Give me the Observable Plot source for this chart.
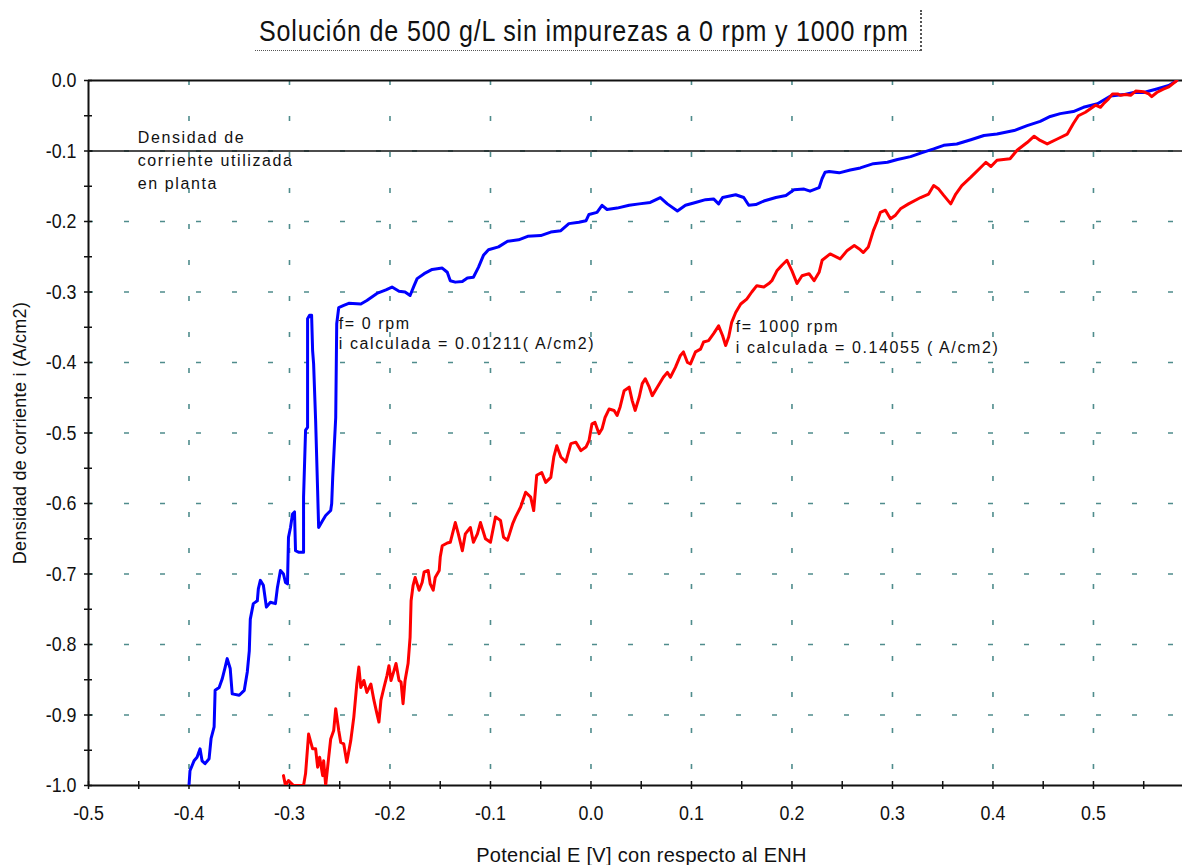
<!DOCTYPE html>
<html>
<head>
<meta charset="utf-8">
<script src="https://cdn.jsdelivr.net/npm/d3@7"></script>
<script src="https://cdn.jsdelivr.net/npm/@observablehq/plot@0.6"></script>
<style>
  body { margin: 0; background: #fff; }
  #figura { position: relative; width: 1182px; height: 865px; }
  #titulo {
    position: absolute; left: 255px; top: 10px; width: 667px; height: 41px;
    box-sizing: border-box; border-right: 2px dotted #555; border-bottom: 1px dotted #555;
    overflow: visible; white-space: nowrap; color: #111;
  }
  #titulo span {
    position: absolute; left: 4px; top: 0; line-height: 41px;
    font-family: "Liberation Sans", Arial, sans-serif; font-size: 30px; letter-spacing: 1px;
    transform: scaleX(0.835); transform-origin: 0 50%;
  }
  #figura svg text { fill: #111; }
  #figura svg [aria-label^="x-axis"] text,
  #figura svg [aria-label^="y-axis"] text {
    font-family: "Liberation Sans", Arial, sans-serif;
    font-size: 21px;
  }
</style>
</head>
<body>
<div id="figura"></div>
<script>
// Curva de polarización: potencial E (V vs ENH) e densidad de corriente i (A/cm2)
const curva0rpm = [
  [-0.400,-1.000],[-0.399,-0.979],[-0.395,-0.965],[-0.392,-0.960],[-0.389,-0.948],[-0.387,-0.965],
  [-0.384,-0.969],[-0.380,-0.962],[-0.378,-0.933],[-0.375,-0.917],[-0.374,-0.865],[-0.370,-0.861],
  [-0.367,-0.849],[-0.364,-0.832],[-0.362,-0.820],[-0.359,-0.834],[-0.357,-0.870],[-0.350,-0.872],
  [-0.345,-0.865],[-0.342,-0.839],[-0.340,-0.809],[-0.339,-0.764],[-0.336,-0.742],[-0.332,-0.738],
  [-0.331,-0.721],[-0.329,-0.709],[-0.326,-0.716],[-0.323,-0.747],[-0.319,-0.740],[-0.314,-0.742],
  [-0.312,-0.719],[-0.309,-0.695],[-0.306,-0.700],[-0.304,-0.712],[-0.302,-0.714],[-0.301,-0.648],
  [-0.299,-0.634],[-0.297,-0.615],[-0.295,-0.612],[-0.294,-0.667],[-0.291,-0.669],[-0.286,-0.669],
  [-0.286,-0.591],[-0.284,-0.496],[-0.282,-0.492],[-0.282,-0.338],[-0.280,-0.333],[-0.278,-0.333],
  [-0.277,-0.383],[-0.276,-0.402],[-0.274,-0.482],[-0.272,-0.582],[-0.271,-0.634],[-0.267,-0.624],
  [-0.264,-0.617],[-0.259,-0.610],[-0.258,-0.600],[-0.257,-0.563],[-0.254,-0.478],[-0.253,-0.345],
  [-0.251,-0.322],[-0.246,-0.319],[-0.241,-0.316],[-0.229,-0.317],[-0.223,-0.312],[-0.213,-0.302],
  [-0.204,-0.297],[-0.198,-0.293],[-0.191,-0.299],[-0.185,-0.300],[-0.180,-0.305],[-0.176,-0.291],
  [-0.173,-0.281],[-0.166,-0.274],[-0.158,-0.268],[-0.148,-0.266],[-0.143,-0.272],[-0.140,-0.284],
  [-0.135,-0.286],[-0.128,-0.285],[-0.123,-0.280],[-0.117,-0.279],[-0.112,-0.265],[-0.107,-0.248],
  [-0.102,-0.240],[-0.092,-0.236],[-0.083,-0.228],[-0.072,-0.226],[-0.063,-0.221],[-0.050,-0.220],
  [-0.040,-0.215],[-0.030,-0.213],[-0.022,-0.203],[-0.012,-0.201],[-0.005,-0.199],[-0.002,-0.190],
  [0.006,-0.187],[0.011,-0.177],[0.016,-0.183],[0.026,-0.181],[0.038,-0.177],[0.048,-0.175],
  [0.059,-0.173],[0.069,-0.166],[0.076,-0.175],[0.086,-0.185],[0.094,-0.177],[0.104,-0.173],
  [0.114,-0.169],[0.122,-0.168],[0.127,-0.175],[0.131,-0.166],[0.144,-0.162],[0.152,-0.166],
  [0.157,-0.177],[0.164,-0.176],[0.172,-0.171],[0.184,-0.166],[0.194,-0.163],[0.202,-0.155],
  [0.212,-0.154],[0.218,-0.157],[0.227,-0.152],[0.230,-0.139],[0.233,-0.130],[0.237,-0.129],
  [0.247,-0.131],[0.258,-0.127],[0.268,-0.124],[0.281,-0.118],[0.295,-0.116],[0.305,-0.112],
  [0.318,-0.108],[0.328,-0.103],[0.341,-0.097],[0.351,-0.092],[0.364,-0.090],[0.378,-0.084],
  [0.391,-0.078],[0.404,-0.076],[0.421,-0.071],[0.434,-0.064],[0.447,-0.058],[0.457,-0.051],
  [0.467,-0.047],[0.480,-0.044],[0.490,-0.038],[0.504,-0.033],[0.517,-0.022],[0.530,-0.020],
  [0.540,-0.017],[0.550,-0.017],[0.563,-0.012],[0.575,-0.007],[0.583,0.000]
];

const curva1000rpm = [
  [-0.306,-0.986],[-0.304,-1.000],[-0.301,-0.993],[-0.296,-1.000],[-0.286,-1.000],[-0.284,-0.983],
  [-0.282,-0.946],[-0.281,-0.927],[-0.277,-0.948],[-0.274,-0.948],[-0.272,-0.974],[-0.270,-0.960],
  [-0.267,-0.986],[-0.266,-0.965],[-0.264,-1.000],[-0.261,-0.960],[-0.259,-0.934],[-0.256,-0.922],
  [-0.254,-0.891],[-0.251,-0.922],[-0.249,-0.939],[-0.246,-0.941],[-0.243,-0.967],[-0.239,-0.936],
  [-0.236,-0.903],[-0.233,-0.856],[-0.231,-0.832],[-0.229,-0.861],[-0.226,-0.851],[-0.223,-0.868],
  [-0.219,-0.856],[-0.216,-0.879],[-0.213,-0.898],[-0.211,-0.910],[-0.209,-0.879],[-0.206,-0.861],
  [-0.203,-0.844],[-0.201,-0.830],[-0.199,-0.851],[-0.196,-0.837],[-0.194,-0.827],[-0.191,-0.851],
  [-0.189,-0.853],[-0.187,-0.884],[-0.185,-0.851],[-0.182,-0.827],[-0.180,-0.790],[-0.179,-0.738],
  [-0.177,-0.716],[-0.175,-0.705],[-0.171,-0.723],[-0.168,-0.712],[-0.166,-0.697],[-0.162,-0.695],
  [-0.160,-0.714],[-0.157,-0.723],[-0.155,-0.705],[-0.151,-0.695],[-0.150,-0.676],[-0.148,-0.660],
  [-0.143,-0.656],[-0.140,-0.655],[-0.135,-0.627],[-0.132,-0.643],[-0.128,-0.667],[-0.125,-0.643],
  [-0.120,-0.634],[-0.117,-0.655],[-0.113,-0.643],[-0.110,-0.627],[-0.105,-0.650],[-0.100,-0.655],
  [-0.095,-0.619],[-0.090,-0.624],[-0.087,-0.648],[-0.083,-0.652],[-0.078,-0.629],[-0.075,-0.619],
  [-0.070,-0.605],[-0.065,-0.584],[-0.060,-0.591],[-0.057,-0.610],[-0.054,-0.560],[-0.049,-0.556],
  [-0.045,-0.570],[-0.040,-0.563],[-0.037,-0.534],[-0.034,-0.518],[-0.030,-0.534],[-0.025,-0.541],
  [-0.020,-0.515],[-0.015,-0.513],[-0.010,-0.525],[-0.005,-0.520],[-0.002,-0.511],[0.001,-0.487],
  [0.004,-0.485],[0.008,-0.501],[0.011,-0.494],[0.014,-0.478],[0.018,-0.466],[0.023,-0.468],
  [0.026,-0.475],[0.029,-0.463],[0.033,-0.440],[0.038,-0.435],[0.041,-0.454],[0.044,-0.468],
  [0.048,-0.449],[0.051,-0.430],[0.054,-0.423],[0.058,-0.435],[0.061,-0.447],[0.066,-0.435],
  [0.072,-0.421],[0.076,-0.414],[0.079,-0.421],[0.084,-0.407],[0.089,-0.390],[0.092,-0.385],
  [0.096,-0.400],[0.099,-0.402],[0.104,-0.385],[0.109,-0.381],[0.112,-0.371],[0.117,-0.369],
  [0.122,-0.359],[0.127,-0.348],[0.131,-0.362],[0.134,-0.376],[0.137,-0.364],[0.140,-0.343],
  [0.144,-0.329],[0.149,-0.317],[0.155,-0.310],[0.160,-0.300],[0.165,-0.291],[0.172,-0.293],
  [0.177,-0.288],[0.180,-0.284],[0.185,-0.270],[0.190,-0.262],[0.195,-0.255],[0.200,-0.270],
  [0.205,-0.288],[0.210,-0.277],[0.217,-0.274],[0.222,-0.284],[0.227,-0.272],[0.230,-0.255],
  [0.238,-0.246],[0.248,-0.253],[0.255,-0.241],[0.262,-0.234],[0.267,-0.239],[0.271,-0.244],
  [0.276,-0.236],[0.281,-0.213],[0.285,-0.199],[0.288,-0.187],[0.293,-0.184],[0.298,-0.196],
  [0.303,-0.191],[0.308,-0.182],[0.316,-0.175],[0.328,-0.166],[0.336,-0.161],[0.341,-0.149],
  [0.346,-0.154],[0.351,-0.163],[0.358,-0.175],[0.363,-0.161],[0.369,-0.149],[0.378,-0.137],
  [0.388,-0.123],[0.393,-0.116],[0.398,-0.122],[0.404,-0.113],[0.417,-0.111],[0.424,-0.099],
  [0.434,-0.088],[0.441,-0.079],[0.447,-0.085],[0.454,-0.090],[0.464,-0.083],[0.474,-0.076],
  [0.480,-0.061],[0.485,-0.050],[0.492,-0.045],[0.497,-0.040],[0.502,-0.035],[0.507,-0.038],
  [0.510,-0.033],[0.515,-0.026],[0.519,-0.019],[0.524,-0.019],[0.527,-0.021],[0.532,-0.020],
  [0.537,-0.021],[0.542,-0.015],[0.550,-0.016],[0.555,-0.019],[0.558,-0.023],[0.563,-0.017],
  [0.570,-0.012],[0.575,-0.009],[0.583,0.000]
];

// Densidad de corriente de referencia (planta)
const corrientePlanta = -0.1;

// Marcas de los ejes
const etiquetasE = [-0.5, -0.4, -0.3, -0.2, -0.1, 0.0, 0.1, 0.2, 0.3, 0.4, 0.5];
const marcasE = [-0.5, -0.45, -0.4, -0.35, -0.3, -0.25, -0.2, -0.15, -0.1, -0.05, 0, 0.05, 0.1, 0.15, 0.2, 0.25, 0.3, 0.35, 0.4, 0.45, 0.5, 0.55];
const etiquetasI = [0.0, -0.1, -0.2, -0.3, -0.4, -0.5, -0.6, -0.7, -0.8, -0.9, -1.0];
const marcasI = [0, -0.05, -0.1, -0.15, -0.2, -0.25, -0.3, -0.35, -0.4, -0.45, -0.5, -0.55, -0.6, -0.65, -0.7, -0.75, -0.8, -0.85, -0.9, -0.95, -1.0];
const rejillaE = [-0.4, -0.3, -0.2, -0.1, 0.0, 0.1, 0.2, 0.3, 0.4, 0.5];
const rejillaI = [-0.1, -0.2, -0.3, -0.4, -0.5, -0.6, -0.7, -0.8, -0.9];

// Rango de los ejes
const dominioE = [-0.5, 0.5886];
const dominioI = [-1, 0];

// Textos
const titulo = "Solución de 500 g/L sin impurezas a 0 rpm y 1000 rpm";
const tituloX = "Potencial E [V] con respecto al ENH";
const tituloY = "Densidad de corriente i (A/cm2)";
const notas = [
  {E: -0.451, i: -0.111, texto: "Densidad de\ncorriente utilizada\nen planta", alto: 1.42},
  {E: -0.251, i: -0.357, texto: "f= 0 rpm\ni calculada = 0.01211( A/cm2)", alto: 1.25},
  {E: 0.144, i: -0.362, texto: "f= 1000 rpm\ni calculada = 0.14055 ( A/cm2)", alto: 1.35}
];

const fmt = d => d.toFixed(1);
const serie0 = curva0rpm.map(([E, i]) => ({E, i}));
const serie1000 = curva1000rpm.map(([E, i]) => ({E, i}));

const rejillaColor = "#4f8c8c";

const marcasNotas = notas.map(n => Plot.text([n], {
  x: "E", y: "i", text: "texto", textAnchor: "start", lineAnchor: "middle",
  lineHeight: n.alto, fontSize: 16, fill: "#111"
}));

const grafico = Plot.plot({
  width: 1182,
  height: 865,
  marginLeft: 88,
  marginRight: 0,
  marginTop: 80,
  marginBottom: 80,
  style: {background: "#fff", fontFamily: "'Liberation Sans', Arial, sans-serif", fontSize: "16px", color: "#111"},
  x: {domain: dominioE, ticks: etiquetasE, tickFormat: fmt, tickSize: 0, tickPadding: 20, label: null},
  y: {domain: dominioI, ticks: etiquetasI, tickFormat: fmt, tickSize: 0, tickPadding: 12, label: null},
  marks: [
    // rejilla punteada
    Plot.ruleX(rejillaE, {x: d => d, y1: dominioI[1], y2: dominioI[0], stroke: rejillaColor, strokeWidth: 1.6, strokeDasharray: "5,31"}),
    Plot.ruleY(rejillaI, {y: d => d, x1: dominioE[0], x2: dominioE[1], stroke: rejillaColor, strokeWidth: 1.6, strokeDasharray: "5,31"}),
    // líneas del marco y referencia de planta
    Plot.ruleY([dominioI[1]], {y: d => d, stroke: "#111", strokeWidth: 1.8}),
    Plot.ruleY([corrientePlanta], {y: d => d, stroke: "#111", strokeWidth: 1.5}),
    Plot.ruleY([dominioI[0]], {y: d => d, stroke: "#111", strokeWidth: 2}),
    Plot.ruleX([dominioE[0]], {x: d => d, stroke: "#111", strokeWidth: 2}),
    // marcas cruzadas sobre los ejes
    Plot.ruleX(marcasE, {x: d => d, y1: dominioI[0], y2: dominioI[0], insetTop: -4, insetBottom: -4, stroke: "#111", strokeWidth: 1.5}),
    Plot.ruleY(marcasI, {y: d => d, x1: dominioE[0], x2: dominioE[0], insetLeft: -4, insetRight: -4, stroke: "#111", strokeWidth: 1.5}),
    // curvas
    Plot.line(serie0, {x: "E", y: "i", stroke: "#0000ff", strokeWidth: 3, clip: true}),
    Plot.line(serie1000, {x: "E", y: "i", stroke: "#ff0000", strokeWidth: 3, clip: true}),
    // anotaciones
    ...marcasNotas,
    // títulos de los ejes
    Plot.text([tituloX], {text: d => d, frameAnchor: "bottom", dy: 76, dx: 6, fontSize: 20, fill: "#111"}),
    Plot.text([tituloY], {text: d => d, frameAnchor: "left", textAnchor: "middle", dx: -68, rotate: -90, fontSize: 18, fill: "#111"})
  ]
});

// Tipografía: espaciado de las anotaciones y etiquetas estrechas en los ejes
const svg = d3.select(grafico);
svg.selectAll('g[aria-label="text"]').each(function(_, k) {
  if (k < notas.length) d3.select(this).selectAll("text").style("letter-spacing", "1.6px");
  else d3.select(this).selectAll("text").style("letter-spacing", "0.3px");
});
svg.selectAll('[aria-label^="x-axis"] text, [aria-label^="y-axis"] text').each(function() {
  const t = this.getAttribute("transform");
  if (t) {
    this.setAttribute("transform", t + " scale(0.85,1)");
  } else {
    const x = +this.getAttribute("x") || 0;
    const y = +this.getAttribute("y") || 0;
    this.setAttribute("transform", `translate(${x},${y}) scale(0.85,1) translate(${-x},${-y})`);
  }
});

const figura = document.getElementById("figura");
figura.appendChild(grafico);
const cab = document.createElement("div");
cab.id = "titulo";
const cabTexto = document.createElement("span");
cabTexto.textContent = titulo;
cab.appendChild(cabTexto);
figura.appendChild(cab);
</script>
</body>
</html>
